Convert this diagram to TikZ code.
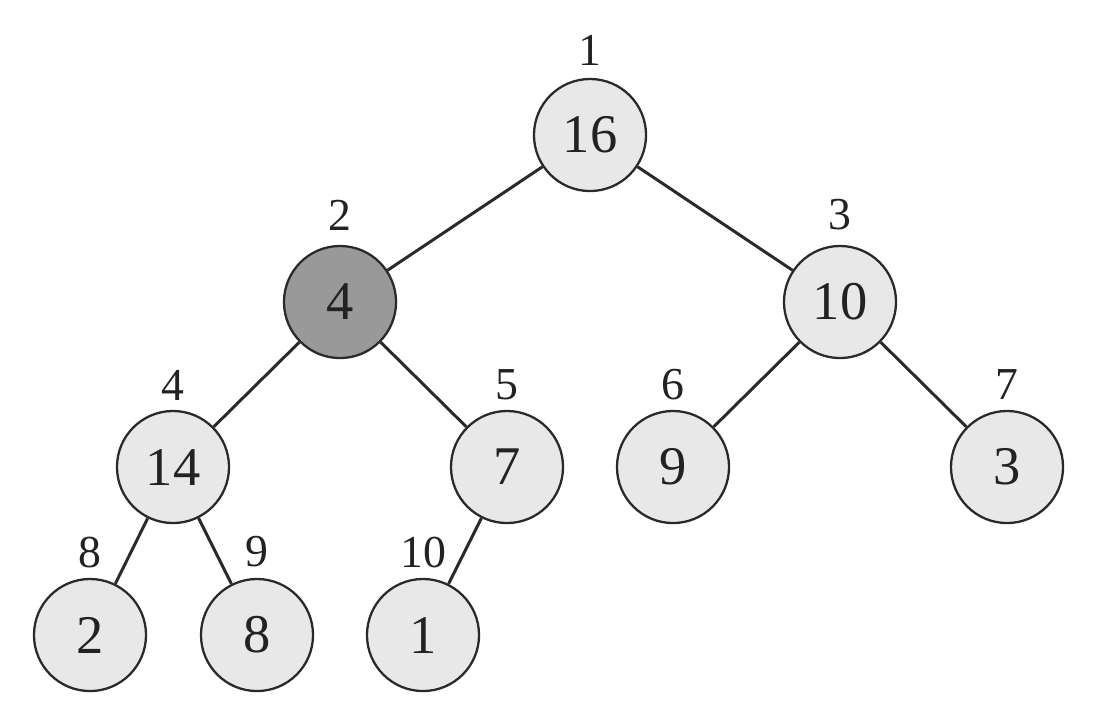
\documentclass[tikz,border=0pt]{standalone}
\usepackage{fontspec}
\setmainfont{Liberation Serif}
\definecolor{lightfill}{HTML}{E8E8E8}
\definecolor{darkfill}{HTML}{999999}
\definecolor{edgecol}{HTML}{2A2A2A}
\definecolor{textcol}{HTML}{222222}
\begin{document}
\begin{tikzpicture}[x=0.01cm,y=-0.01cm,
  heapnode/.style={circle,draw=edgecol,line width=0.65pt,fill=lightfill,minimum size=1.12cm,inner sep=0pt,text=textcol,font=\fontsize{15.5}{18}\selectfont},
  darknode/.style={heapnode,fill=darkfill},
  idx/.style={font=\fontsize{13}{15}\selectfont,inner sep=0pt,text=textcol},
  edge/.style={draw=edgecol,line width=0.85pt}]
\useasboundingbox (0,0) rectangle (1104,726);
\node[heapnode] (n1) at (590,135) {16};
\node[darknode] (n2) at (340,302) {4};
\node[heapnode] (n3) at (840,302) {10};
\node[heapnode] (n4) at (173,467) {14};
\node[heapnode] (n5) at (507,467) {7};
\node[heapnode] (n6) at (673,467) {9};
\node[heapnode] (n7) at (1007,467) {3};
\node[heapnode] (n8) at (90,635) {2};
\node[heapnode] (n9) at (257,635) {8};
\node[heapnode] (n10) at (423,635) {1};
\node[idx] (l1) at (590,50) {1};
\node[idx] (l2) at (340,215) {2};
\node[idx] (l3) at (840,215) {3};
\node[idx] (l4) at (173,385) {4};
\node[idx] (l5) at (507,385) {5};
\node[idx] (l6) at (673,385) {6};
\node[idx] (l7) at (1007,385) {7};
\node[idx] (l8) at (90,552) {8};
\node[idx] (l9) at (257,552) {9};
\node[idx] (l10) at (423,552) {10};
\draw[edge] (n1) -- (n2);
\draw[edge] (n1) -- (n3);
\draw[edge] (n2) -- (n4);
\draw[edge] (n2) -- (n5);
\draw[edge] (n3) -- (n6);
\draw[edge] (n3) -- (n7);
\draw[edge] (n4) -- (n8);
\draw[edge] (n4) -- (n9);
\draw[edge] (n5) -- (n10);
\end{tikzpicture}
\end{document}
